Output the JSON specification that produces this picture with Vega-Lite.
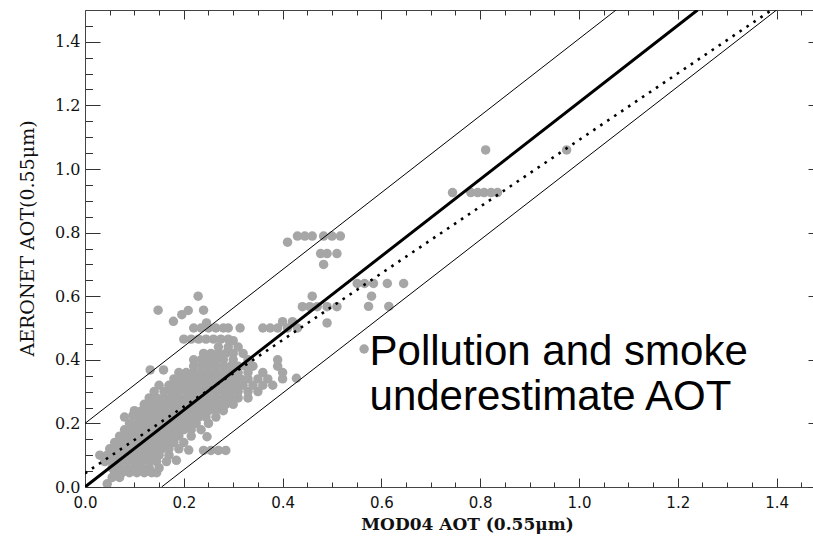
{
  "$schema": "https://vega.github.io/schema/vega-lite/v6.json",
  "width": 728,
  "height": 477,
  "autosize": {"type": "none"},
  "padding": {"left": 85, "top": 10, "right": 0, "bottom": 50},
  "background": "white",
  "config": {
    "view": {"stroke": "transparent", "strokeWidth": 0},
    "axis": {"domain": false, "grid": false, "tickColor": "#333", "domainColor": "#444", "domainWidth": 1, "labelColor": "#111", "titleColor": "#111", "labelFlush": false}
  },
  "datasets": {
    "pts": [
      {"x":0.045,"y":0.01},
      {"x":0.055,"y":0.03},{"x":0.07,"y":0.03},
      {"x":0.06,"y":0.045},{"x":0.075,"y":0.045},{"x":0.09,"y":0.045},{"x":0.105,"y":0.045},{"x":0.12,"y":0.045},{"x":0.135,"y":0.045},{"x":0.145,"y":0.045},
      {"x":0.055,"y":0.06},{"x":0.07,"y":0.06},{"x":0.085,"y":0.06},{"x":0.1,"y":0.06},{"x":0.115,"y":0.06},{"x":0.13,"y":0.06},{"x":0.15,"y":0.06},
      {"x":0.04,"y":0.08},{"x":0.055,"y":0.08},{"x":0.07,"y":0.08},{"x":0.085,"y":0.08},{"x":0.1,"y":0.08},{"x":0.115,"y":0.08},{"x":0.13,"y":0.08},{"x":0.145,"y":0.08},{"x":0.165,"y":0.08},{"x":0.185,"y":0.084},
      {"x":0.03,"y":0.1},{"x":0.045,"y":0.1},{"x":0.06,"y":0.1},{"x":0.075,"y":0.1},{"x":0.09,"y":0.1},{"x":0.105,"y":0.1},{"x":0.12,"y":0.1},{"x":0.135,"y":0.1},{"x":0.15,"y":0.1},{"x":0.17,"y":0.1},
      {"x":0.05,"y":0.12},{"x":0.065,"y":0.12},{"x":0.08,"y":0.12},{"x":0.095,"y":0.12},{"x":0.11,"y":0.12},{"x":0.125,"y":0.12},{"x":0.14,"y":0.12},{"x":0.155,"y":0.12},{"x":0.17,"y":0.12},{"x":0.19,"y":0.12},{"x":0.21,"y":0.116},{"x":0.24,"y":0.115},{"x":0.255,"y":0.115},{"x":0.27,"y":0.115},{"x":0.285,"y":0.115},
      {"x":0.06,"y":0.14},{"x":0.075,"y":0.14},{"x":0.09,"y":0.14},{"x":0.105,"y":0.14},{"x":0.12,"y":0.14},{"x":0.135,"y":0.14},{"x":0.15,"y":0.14},{"x":0.165,"y":0.14},{"x":0.18,"y":0.14},{"x":0.2,"y":0.14},
      {"x":0.07,"y":0.16},{"x":0.085,"y":0.16},{"x":0.1,"y":0.16},{"x":0.115,"y":0.16},{"x":0.13,"y":0.16},{"x":0.145,"y":0.16},{"x":0.16,"y":0.16},{"x":0.175,"y":0.16},{"x":0.19,"y":0.16},{"x":0.215,"y":0.16},{"x":0.247,"y":0.158},
      {"x":0.08,"y":0.18},{"x":0.095,"y":0.18},{"x":0.11,"y":0.18},{"x":0.125,"y":0.18},{"x":0.14,"y":0.18},{"x":0.155,"y":0.18},{"x":0.17,"y":0.18},{"x":0.185,"y":0.18},{"x":0.2,"y":0.18},{"x":0.215,"y":0.18},{"x":0.235,"y":0.18},
      {"x":0.09,"y":0.2},{"x":0.105,"y":0.2},{"x":0.12,"y":0.2},{"x":0.135,"y":0.2},{"x":0.15,"y":0.2},{"x":0.165,"y":0.2},{"x":0.18,"y":0.2},{"x":0.195,"y":0.2},{"x":0.21,"y":0.2},{"x":0.225,"y":0.2},{"x":0.25,"y":0.2},
      {"x":0.08,"y":0.22},{"x":0.097,"y":0.225},{"x":0.11,"y":0.22},{"x":0.125,"y":0.22},{"x":0.14,"y":0.22},{"x":0.155,"y":0.22},{"x":0.17,"y":0.22},{"x":0.185,"y":0.22},{"x":0.2,"y":0.22},{"x":0.215,"y":0.22},{"x":0.23,"y":0.22},{"x":0.245,"y":0.22},{"x":0.265,"y":0.22},
      {"x":0.1,"y":0.24},{"x":0.115,"y":0.24},{"x":0.13,"y":0.24},{"x":0.145,"y":0.24},{"x":0.16,"y":0.24},{"x":0.175,"y":0.24},{"x":0.19,"y":0.24},{"x":0.205,"y":0.24},{"x":0.22,"y":0.24},{"x":0.235,"y":0.24},{"x":0.25,"y":0.24},{"x":0.265,"y":0.24},{"x":0.28,"y":0.24},
      {"x":0.12,"y":0.26},{"x":0.135,"y":0.26},{"x":0.15,"y":0.26},{"x":0.165,"y":0.26},{"x":0.18,"y":0.26},{"x":0.195,"y":0.26},{"x":0.21,"y":0.26},{"x":0.225,"y":0.26},{"x":0.24,"y":0.26},{"x":0.255,"y":0.26},{"x":0.27,"y":0.26},{"x":0.285,"y":0.26},{"x":0.3,"y":0.26},
      {"x":0.13,"y":0.28},{"x":0.145,"y":0.28},{"x":0.16,"y":0.28},{"x":0.175,"y":0.28},{"x":0.19,"y":0.28},{"x":0.205,"y":0.28},{"x":0.22,"y":0.28},{"x":0.235,"y":0.28},{"x":0.25,"y":0.28},{"x":0.265,"y":0.28},{"x":0.28,"y":0.28},{"x":0.295,"y":0.28},{"x":0.31,"y":0.28},{"x":0.33,"y":0.28},
      {"x":0.14,"y":0.3},{"x":0.16,"y":0.3},{"x":0.175,"y":0.3},{"x":0.19,"y":0.3},{"x":0.205,"y":0.3},{"x":0.22,"y":0.3},{"x":0.235,"y":0.3},{"x":0.25,"y":0.3},{"x":0.265,"y":0.3},{"x":0.28,"y":0.3},{"x":0.295,"y":0.3},{"x":0.31,"y":0.3},{"x":0.33,"y":0.3},{"x":0.35,"y":0.3},
      {"x":0.15,"y":0.32},{"x":0.17,"y":0.32},{"x":0.185,"y":0.32},{"x":0.2,"y":0.32},{"x":0.215,"y":0.32},{"x":0.23,"y":0.32},{"x":0.245,"y":0.32},{"x":0.26,"y":0.32},{"x":0.275,"y":0.32},{"x":0.29,"y":0.32},{"x":0.305,"y":0.32},{"x":0.32,"y":0.32},{"x":0.34,"y":0.32},{"x":0.36,"y":0.32},{"x":0.38,"y":0.32},
      {"x":0.18,"y":0.34},{"x":0.195,"y":0.34},{"x":0.21,"y":0.34},{"x":0.225,"y":0.34},{"x":0.24,"y":0.34},{"x":0.255,"y":0.34},{"x":0.27,"y":0.34},{"x":0.285,"y":0.34},{"x":0.3,"y":0.34},{"x":0.315,"y":0.34},{"x":0.33,"y":0.34},{"x":0.35,"y":0.34},{"x":0.37,"y":0.34},{"x":0.4,"y":0.34},{"x":0.428,"y":0.342},
      {"x":0.19,"y":0.36},{"x":0.205,"y":0.36},{"x":0.22,"y":0.36},{"x":0.235,"y":0.36},{"x":0.25,"y":0.36},{"x":0.265,"y":0.36},{"x":0.28,"y":0.36},{"x":0.295,"y":0.36},{"x":0.31,"y":0.36},{"x":0.33,"y":0.36},{"x":0.36,"y":0.36},{"x":0.4,"y":0.36},
      {"x":0.132,"y":0.368},{"x":0.159,"y":0.368},
      {"x":0.22,"y":0.38},{"x":0.235,"y":0.38},{"x":0.25,"y":0.38},{"x":0.265,"y":0.38},{"x":0.28,"y":0.38},{"x":0.295,"y":0.38},{"x":0.31,"y":0.38},{"x":0.325,"y":0.38},{"x":0.34,"y":0.38},{"x":0.39,"y":0.38},
      {"x":0.22,"y":0.4},{"x":0.235,"y":0.4},{"x":0.25,"y":0.4},{"x":0.265,"y":0.4},{"x":0.28,"y":0.4},{"x":0.3,"y":0.4},{"x":0.33,"y":0.4},{"x":0.39,"y":0.4},
      {"x":0.24,"y":0.42},{"x":0.255,"y":0.42},{"x":0.27,"y":0.42},{"x":0.285,"y":0.42},{"x":0.3,"y":0.42},{"x":0.32,"y":0.42},
      {"x":0.27,"y":0.44},{"x":0.29,"y":0.44},{"x":0.31,"y":0.44},
      {"x":0.2,"y":0.465},{"x":0.215,"y":0.465},{"x":0.23,"y":0.465},{"x":0.245,"y":0.465},{"x":0.26,"y":0.465},{"x":0.275,"y":0.465},{"x":0.29,"y":0.465},{"x":0.3,"y":0.46},
      {"x":0.22,"y":0.5},{"x":0.235,"y":0.5},{"x":0.25,"y":0.5},{"x":0.265,"y":0.5},{"x":0.28,"y":0.5},{"x":0.29,"y":0.5},{"x":0.314,"y":0.5},
      {"x":0.246,"y":0.516},{"x":0.179,"y":0.521},{"x":0.196,"y":0.542},{"x":0.148,"y":0.556},{"x":0.209,"y":0.555},{"x":0.24,"y":0.556},{"x":0.229,"y":0.6},
      {"x":0.36,"y":0.5},{"x":0.375,"y":0.5},{"x":0.39,"y":0.5},{"x":0.41,"y":0.5},{"x":0.43,"y":0.5},
      {"x":0.4,"y":0.52},{"x":0.42,"y":0.52},{"x":0.49,"y":0.516},
      {"x":0.44,"y":0.567},{"x":0.455,"y":0.567},{"x":0.47,"y":0.567},{"x":0.49,"y":0.567},{"x":0.51,"y":0.567},{"x":0.574,"y":0.568},{"x":0.615,"y":0.568},
      {"x":0.565,"y":0.434},
      {"x":0.551,"y":0.64},{"x":0.566,"y":0.64},{"x":0.584,"y":0.64},{"x":0.612,"y":0.64},{"x":0.645,"y":0.64},
      {"x":0.46,"y":0.6},{"x":0.58,"y":0.6},
      {"x":0.483,"y":0.7},
      {"x":0.477,"y":0.734},{"x":0.49,"y":0.734},{"x":0.51,"y":0.734},
      {"x":0.41,"y":0.77},
      {"x":0.43,"y":0.789},{"x":0.445,"y":0.789},{"x":0.46,"y":0.789},{"x":0.483,"y":0.789},{"x":0.5,"y":0.789},{"x":0.517,"y":0.789},
      {"x":0.744,"y":0.926},{"x":0.781,"y":0.926},{"x":0.795,"y":0.926},{"x":0.808,"y":0.926},{"x":0.822,"y":0.926},{"x":0.835,"y":0.926},
      {"x":0.811,"y":1.06},{"x":0.975,"y":1.06}
    ],
    "lines": [
      {"line":"upper","x":0.0,"y":0.2},{"line":"upper","x":1.075,"y":1.5},
      {"line":"lower","x":0.155,"y":0.0},{"line":"lower","x":1.4,"y":1.5}
    ],
    "thick": [{"x":0.0,"y":0.0},{"x":1.24,"y":1.5}],
    "dotted": [{"x":0.0,"y":0.043},{"x":1.39,"y":1.5}],
    "notes": [
      {"x":0.576,"y":0.425,"label":"Pollution and smoke"},
      {"x":0.576,"y":0.284,"label":"underestimate AOT"}
    ]
  },
  "layer": [
    {
      "data": {"name": "pts"},
      "mark": {"type": "circle", "fill": "#a6a6a6", "opacity": 1, "size": 90, "clip": true},
      "encoding": {
        "x": {"field": "x", "type": "quantitative",
          "scale": {"domain": [0, 1.4737], "nice": false, "zero": false},
          "axis": {"orient": "bottom", "domain": true, "values": [0, 0.2, 0.4, 0.6, 0.8, 1.0, 1.2, 1.4], "format": ".1f",
            "tickSize": -9, "labelPadding": 17, "labelFont": "DejaVu Sans", "labelFontSize": 15,
            "title": "MOD04  AOT  (0.55μm)", "titleFont": "DejaVu Serif", "titleFontSize": 17, "titleFontWeight": "bold", "titlePadding": 6, "titleX": 382}},
        "y": {"field": "y", "type": "quantitative",
          "scale": {"domain": [0, 1.5], "nice": false, "zero": false},
          "axis": {"orient": "left", "domain": true, "values": [0, 0.2, 0.4, 0.6, 0.8, 1.0, 1.2, 1.4], "format": ".1f",
            "tickSize": -15, "labelPadding": 20, "labelFont": "DejaVu Serif", "labelFontSize": 16,
            "title": "AERONET AOT(0.55μm)", "titleFont": "DejaVu Serif", "titleFontSize": 19, "titleFontWeight": "normal", "titlePadding": 17, "titleY": 228}}
      }
    },
    {
      "data": {"name": "thick"},
      "mark": {"type": "line", "color": "#000", "strokeWidth": 3, "clip": true},
      "encoding": {
        "x": {"field": "x", "type": "quantitative",
          "axis": {"orient": "bottom", "domain": false, "values": [0.05,0.1,0.15,0.25,0.3,0.35,0.45,0.5,0.55,0.65,0.7,0.75,0.85,0.9,0.95,1.05,1.1,1.15,1.25,1.3,1.35,1.45], "labels": false, "tickSize": -5, "title": null}},
        "y": {"field": "y", "type": "quantitative",
          "axis": {"orient": "left", "domain": false, "values": [0.05,0.1,0.15,0.25,0.3,0.35,0.45,0.5,0.55,0.65,0.7,0.75,0.85,0.9,0.95,1.05,1.1,1.15,1.25,1.3,1.35,1.45], "labels": false, "tickSize": -7.5, "title": null}}
      }
    },
    {
      "data": {"name": "dotted"},
      "mark": {"type": "line", "color": "#000", "strokeWidth": 2.6, "strokeDash": [2.6, 5.8], "strokeCap": "butt", "clip": true},
      "encoding": {
        "x": {"field": "x", "type": "quantitative",
          "axis": {"orient": "top", "domain": true, "values": [0, 0.2, 0.4, 0.6, 0.8, 1.0, 1.2, 1.4], "labels": false, "tickSize": -9, "title": null}},
        "y": {"field": "y", "type": "quantitative",
          "axis": {"orient": "right", "domain": false, "values": [0, 0.2, 0.4, 0.6, 0.8, 1.0, 1.2, 1.4], "labels": false, "tickSize": -5, "title": null}}
      }
    },
    {
      "data": {"name": "lines"},
      "mark": {"type": "line", "color": "#000", "strokeWidth": 1, "clip": true},
      "encoding": {
        "x": {"field": "x", "type": "quantitative",
          "axis": {"orient": "top", "domain": false, "values": [0.05,0.1,0.15,0.25,0.3,0.35,0.45,0.5,0.55,0.65,0.7,0.75,0.85,0.9,0.95,1.05,1.1,1.15,1.25,1.3,1.35,1.45], "labels": false, "tickSize": -5, "title": null}},
        "y": {"field": "y", "type": "quantitative", "axis": null},
        "detail": {"field": "line"}
      }
    },
    {
      "data": {"name": "notes"},
      "mark": {"type": "text", "align": "left", "baseline": "middle", "font": "Liberation Sans", "fontSize": 42, "color": "#000"},
      "encoding": {
        "x": {"field": "x", "type": "quantitative", "axis": null},
        "y": {"field": "y", "type": "quantitative", "axis": null},
        "text": {"field": "label"}
      }
    }
  ],
  "resolve": {"axis": {"x": "independent", "y": "independent"}}
}
